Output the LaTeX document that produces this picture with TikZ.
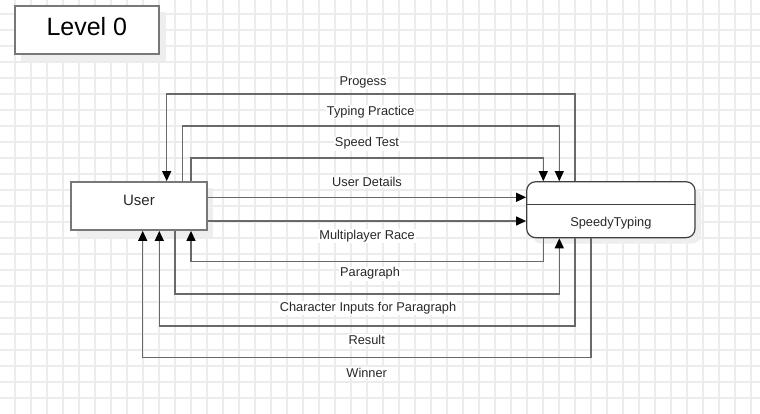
\documentclass[tikz,border=0pt]{standalone}
\usepackage{fontspec}
\setmainfont{Liberation Sans}
\usetikzlibrary{arrows.meta,calc}
\definecolor{gridc}{RGB}{236,236,236}
\definecolor{linec}{RGB}{105,105,105}
\definecolor{boxc}{RGB}{120,120,120}
\definecolor{shadowc}{RGB}{238,238,238}
\definecolor{txtc}{RGB}{40,40,40}
\begin{document}
\begin{tikzpicture}[x=1pt,y=-1pt,
  flow/.style={draw=linec, line width=1.3pt, -{Triangle[length=10pt,width=9pt,color=black]}},
  lbl/.style={fill=white, inner sep=1pt, anchor=base, text=txtc, font=\fontsize{12.8}{14}\selectfont},
  boxtxt/.style={inner sep=0pt, anchor=base, text=txtc},
  sqbox/.style={draw=boxc, line width=1.8pt, fill=white, inner sep=0pt},
  gridline/.style={draw=gridc, line width=1.5pt}
]
\useasboundingbox (0,0) rectangle (760,414);
\fill[white] (0,0) rectangle (760,414);
\foreach \x in {15,31,...,751} \draw[gridline] (\x,0) -- (\x,414);
\foreach \y in {14,30,...,398} \draw[gridline] (0,\y) -- (760,\y);

% shadows
\fill[shadowc] (21,12) rectangle (166,61);
\fill[shadowc] (77,188) rectangle (213,237);
\fill[shadowc, rounded corners=9pt] (532.7,187.7) rectangle (701,243.7);

% boxes
\node[sqbox, minimum width=144.3pt, minimum height=48pt] (level) at (86.85,29.7) {};
\node[boxtxt, font=\fontsize{25}{30}\selectfont, text=black] (levelT) at (86.85,35.7) {Level 0};

\node[sqbox, minimum width=135.7pt, minimum height=48pt] (user) at (138.85,206) {};
\node[boxtxt, font=\fontsize{15}{18}\selectfont] (userT) at (139,205) {User};

\node[draw=black!75, line width=1.2pt, rounded corners=9pt, fill=white, minimum width=168.3pt, minimum height=56pt, inner sep=0pt] (speedy) at (610.85,209.7) {};
\coordinate (divL) at (speedy.west |- 0,204.3);
\coordinate (divR) at (speedy.east |- 0,204.3);
\draw[draw=black!75, line width=1.2pt] (divL) -- (divR);
\node[boxtxt, font=\fontsize{12.8}{15}\selectfont] (speedyT) at (610.85,226) {SpeedyTyping};

% ports
\coordinate (uT1) at (user.north -| 166.7,0);
\coordinate (uT2) at (user.north -| 182.7,0);
\coordinate (uT3) at (user.north -| 191,0);
\coordinate (uB1) at (user.south -| 142.7,0);
\coordinate (uB2) at (user.south -| 159.3,0);
\coordinate (uB3) at (user.south -| 175,0);
\coordinate (uB4) at (user.south -| 191,0);
\coordinate (sT1) at (speedy.north -| 543.3,0);
\coordinate (sT2) at (speedy.north -| 559.3,0);
\coordinate (sT3) at (speedy.north -| 575,0);
\coordinate (sB1) at (speedy.south -| 543.3,0);
\coordinate (sB2) at (speedy.south -| 559.3,0);
\coordinate (sB3) at (speedy.south -| 575,0);
\coordinate (sB4) at (speedy.south -| 591,0);

% connectors
\draw[flow] (sT3) -- (sT3 |- 0,94) -- (uT1 |- 0,94) -- (uT1);
\draw[flow] (uT2) -- (uT2 |- 0,126) -- (sT2 |- 0,126) -- (sT2);
\draw[flow] (uT3) -- (uT3 |- 0,158) -- (sT1 |- 0,158) -- (sT1);
\draw[flow] (user.east |- 0,197.3) -- (speedy.west |- 0,197.3);
\draw[flow] (user.east |- 0,221) -- (speedy.west |- 0,221);
\draw[flow] (sB1) -- (sB1 |- 0,261.7) -- (uB4 |- 0,261.7) -- (uB4);
\draw[flow] (uB3) -- (uB3 |- 0,294) -- (sB2 |- 0,294) -- (sB2);
\draw[flow] (sB3) -- (sB3 |- 0,326) -- (uB2 |- 0,326) -- (uB2);
\draw[flow] (sB4) -- (sB4 |- 0,357.3) -- (uB1 |- 0,357.3) -- (uB1);

% labels
\node[lbl] (lProg) at (363,85.3) {Progess};
\node[lbl] (lType) at (370.7,115.3) {Typing Practice};
\node[lbl] (lSpeed) at (367,146.9) {Speed Test};
\node[lbl] (lUser) at (367,186.9) {User Details};
\node[lbl] (lMulti) at (367,239.3) {Multiplayer Race};
\node[lbl] (lPara) at (370,276.9) {Paragraph};
\node[lbl] (lChar) at (368,311.3) {Character Inputs for Paragraph};
\node[lbl] (lRes) at (366.7,344.6) {Result};
\node[lbl] (lWin) at (366.7,377.3) {Winner};
\end{tikzpicture}
\end{document}
